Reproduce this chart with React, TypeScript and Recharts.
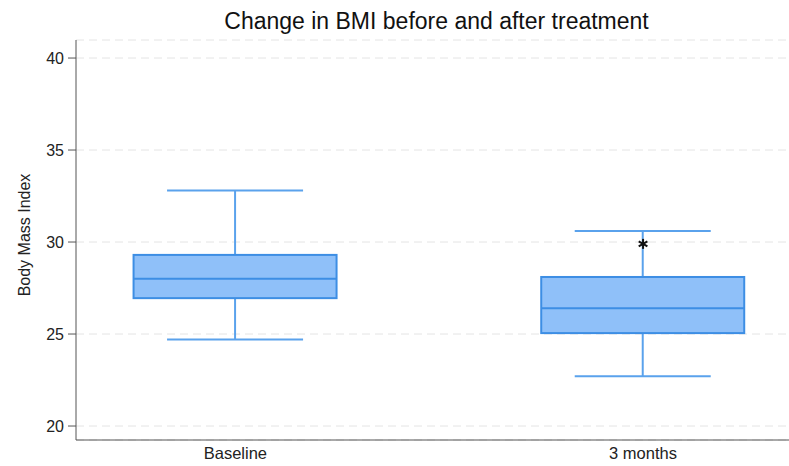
import { Bar, CartesianGrid, ComposedChart, Scatter, XAxis, YAxis } from 'recharts';

const groups = ['Baseline', '3 months'];
const groupPos = [0, 1];
const whiskerLow = [24.7, 22.7];
const quartile1 = [26.95, 25.05];
const medians = [28.0, 26.4];
const quartile3 = [29.3, 28.1];
const whiskerHigh = [32.8, 30.6];
const outlierPos = [1];
const outlierBmi = [29.9];
const yTicks = [20, 25, 30, 35, 40];

const boxData = groups.map((name, i) => ({
  pos: groupPos[i],
  name,
  range: [whiskerLow[i], whiskerHigh[i]],
  low: whiskerLow[i],
  q1: quartile1[i],
  median: medians[i],
  q3: quartile3[i],
  high: whiskerHigh[i],
}));

const outliers = outlierPos.map((p, i) => ({ pos: p, bmi: outlierBmi[i] }));

const BOX_FILL = '#8fc0f9';
const BOX_STROKE = '#3d8ee4';
const WHISKER = '#5aa2ec';

// the bar spans whisker low..high, the rest is placed inside it by value
const BoxShape = (props: any) => {
  const { x, y, width, height, payload } = props;
  const top = Math.min(y, y + height);
  const h = Math.abs(height);
  const span = payload.high - payload.low;
  const py = (v: number) => top + ((payload.high - v) / span) * h;
  const cx = x + width / 2;
  const cap = width * 0.335;
  return (
    <g>
      <line x1={cx} x2={cx} y1={py(payload.high)} y2={py(payload.q3)} stroke={WHISKER} strokeWidth={2} />
      <line x1={cx} x2={cx} y1={py(payload.q1)} y2={py(payload.low)} stroke={WHISKER} strokeWidth={2} />
      <line x1={cx - cap} x2={cx + cap} y1={py(payload.high)} y2={py(payload.high)} stroke={WHISKER} strokeWidth={2} />
      <line x1={cx - cap} x2={cx + cap} y1={py(payload.low)} y2={py(payload.low)} stroke={WHISKER} strokeWidth={2} />
      <rect x={x} y={py(payload.q3)} width={width} height={py(payload.q1) - py(payload.q3)} fill={BOX_FILL} stroke={BOX_STROKE} strokeWidth={2} />
      <line x1={x} x2={x + width} y1={py(payload.median)} y2={py(payload.median)} stroke={BOX_STROKE} strokeWidth={2} />
    </g>
  );
};

const Asterisk = (props: any) => {
  const { cx, cy } = props;
  const r = 5;
  const a = r * Math.cos(Math.PI / 6);
  const b = r * Math.sin(Math.PI / 6);
  return (
    <g stroke="#111" strokeWidth={2}>
      <line x1={cx} x2={cx} y1={cy - r} y2={cy + r} />
      <line x1={cx - a} x2={cx + a} y1={cy - b} y2={cy + b} />
      <line x1={cx - a} x2={cx + a} y1={cy + b} y2={cy - b} />
    </g>
  );
};

const YLabel = (props: any) => {
  const { viewBox } = props;
  const x = viewBox.x + 24;
  const y = viewBox.y + viewBox.height / 2 - 5;
  return (
    <text x={x} y={y} transform={`rotate(-90, ${x}, ${y})`} textAnchor="middle" dominantBaseline="central" fontSize={16} fill="#222" fontFamily="Liberation Sans, Arial, sans-serif">
      Body Mass Index
    </text>
  );
};

export default function App() {
  return (
    <div style={{ position: 'absolute', left: 0, top: 0, width: 789, height: 466, background: '#fff', fontFamily: 'Liberation Sans, Arial, sans-serif' }}>
      <div style={{ position: 'absolute', left: 80, width: 713, top: 10, textAlign: 'center', fontSize: 23, lineHeight: '23px', color: '#111' }}>
        Change in BMI before and after treatment
      </div>
      <ComposedChart width={789} height={466} data={boxData} margin={{ top: 40, right: 0, bottom: 0, left: 0 }}>
        <CartesianGrid vertical={false} stroke="#e4e4e4" strokeDasharray="8 5" />
        <XAxis
          dataKey="pos"
          type="number"
          domain={[-0.391, 1.358]}
          ticks={groupPos}
          allowDataOverflow
          height={26}
          tickLine={false}
          tickMargin={1}
          tickFormatter={(v: number) => groups[groupPos.indexOf(v)]}
          tick={{ fontSize: 16.5, fill: '#222' }}
          stroke="#555"
        />
        <YAxis
          type="number"
          domain={[19.24, 40.98]}
          ticks={yTicks}
          allowDataOverflow
          width={76}
          tickSize={8}
          tickMargin={4}
          tick={{ fontSize: 16, fill: '#222' }}
          stroke="#555"
          label={<YLabel />}
        />
        <Bar dataKey="range" barSize={203} shape={<BoxShape />} isAnimationActive={false} />
        <Scatter data={outliers} dataKey="bmi" shape={<Asterisk />} isAnimationActive={false} />
      </ComposedChart>
    </div>
  );
}
